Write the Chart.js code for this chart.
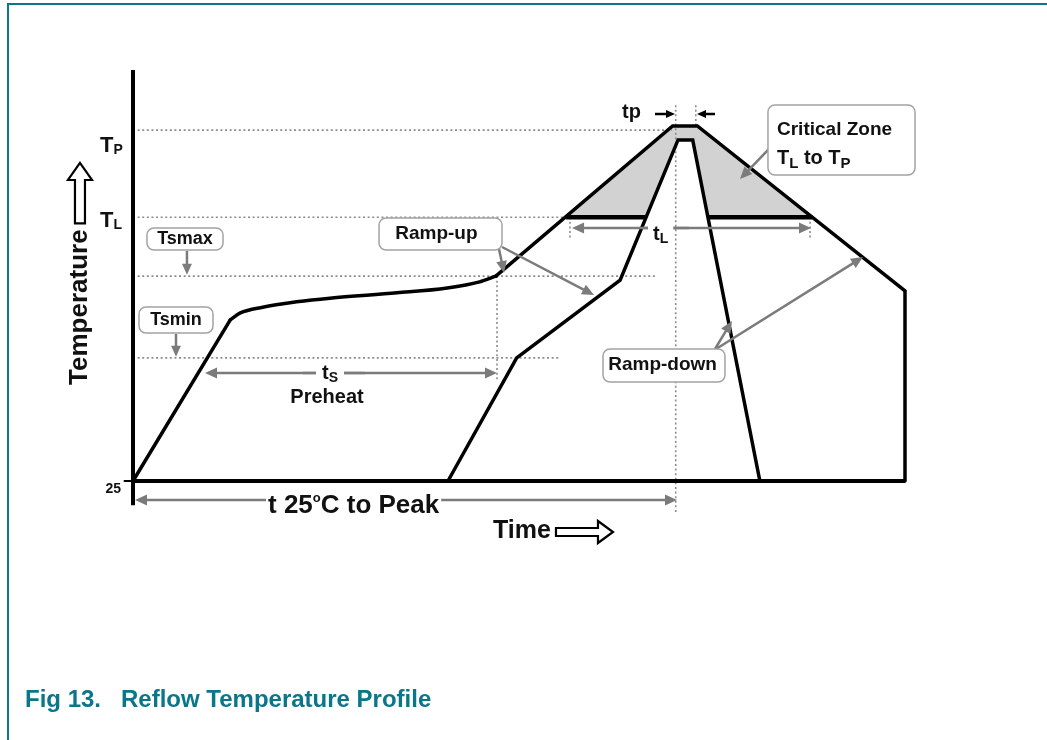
<!DOCTYPE html>
<html lang="en">

<head>
    <meta charset="UTF-8">
    <script src="https://cdn.jsdelivr.net/npm/chart.js"></script>
    <title>Reflow Temperature Profile</title>
    <style>
        body {
            margin: 0;
            background: #fff;
            width: 1047px;
            height: 740px;
            overflow: hidden;
            position: relative;
        }

        #frame {
            position: absolute;
            left: 7px;
            top: 3px;
            right: 0;
            bottom: 0;
            border-top: 2px solid #0b7889;
            border-left: 2px solid #0b7889;
        }

        #reflowChart {
            position: absolute;
            left: 0;
            top: 0;
        }

        .caption {
            position: absolute;
            top: 687px;
            font: bold 24px "Liberation Sans", Arial, sans-serif;
            line-height: 24px;
            color: #0a7689;
            white-space: nowrap;
        }
    </style>
</head>

<body>
    <div id="frame"></div>
    <canvas id="reflowChart" width="1047" height="740"></canvas>
    <div class="caption" style="left:25px">Fig 13.</div>
    <div class="caption" style="left:121px">Reflow Temperature Profile</div>
    <script>
        // time axis 0..100, temperature axis 0..100 (0 = 25 °C)
        const levelLabels = ['TP', 'TL', 'Tsmax', 'Tsmin'];
        const levelValues = [85.8, 64.5, 50.1, 30.1];
        const levelEnds = [69.8, 56.1, 67.6, 55.3];

        const rampTime = [0, 12.6];
        const rampTemp = [0, 39.4];
        const soakTime = [12.6, 13.9, 16.8, 21.2, 25.5, 34.2, 40.7, 44.9, 47.0];
        const soakTemp = [39.4, 41.1, 42.5, 43.8, 44.7, 46.0, 47.2, 48.7, 50.1];
        const reflowTime = [47.0, 69.9, 73.1, 100, 100];
        const reflowTemp = [50.1, 86.8, 86.8, 46.5, 0];

        const innerTime = [40.8, 49.7, 63.1, 70.6, 72.5, 81.2];
        const innerTemp = [0, 30.1, 49.1, 83.4, 83.4, 0];

        // critical zone TL..TP between both profiles
        const zoneTime = [56.1, 69.9, 73.1, 88.0, 74.5, 72.5, 70.6, 66.5];
        const zoneTemp = [64.5, 86.8, 86.8, 64.5, 64.5, 83.4, 83.4, 64.5];
        const zoneEdgeTime = [56.1, 66.5, 74.5, 88.0];

        // vertical marker guides (time, from, to)
        const markerTimes = [47.15, 70.3, 72.9, 56.6, 87.7];
        const markerTops = [50.1, 91.9, 91.9, 64.5, 64.5];
        const markerBottoms = [24.7, -7.6, 86.8, 58.9, 58.9];

        const FONT = '"Liberation Sans", Arial, sans-serif';
        const GREY = '#7b7b7b';

        function toPoints(xs, ys) {
            return xs.map(function (x, i) { return { x: x, y: ys[i] }; });
        }

        const guidePoints = [];
        levelValues.forEach(function (v, i) {
            guidePoints.push({ x: 0.6, y: v }, { x: levelEnds[i], y: v }, { x: levelEnds[i], y: null });
        });
        markerTimes.forEach(function (t, i) {
            guidePoints.push({ x: t, y: markerTops[i] }, { x: t, y: markerBottoms[i] }, { x: t, y: null });
        });

        const edgePoints = [
            { x: zoneEdgeTime[0], y: levelValues[1] }, { x: zoneEdgeTime[1], y: levelValues[1] },
            { x: zoneEdgeTime[1], y: null },
            { x: zoneEdgeTime[2], y: levelValues[1] }, { x: zoneEdgeTime[3], y: levelValues[1] }
        ];

        function line(points, width, extra) {
            return Object.assign({
                data: points,
                showLine: true,
                pointRadius: 0,
                borderColor: '#000',
                borderWidth: width,
                borderCapStyle: 'round',
                fill: false,
                tension: 0,
                clip: false
            }, extra || {});
        }

        function drawArrow(ctx, x1, y1, x2, y2, color, width, head) {
            const a = Math.atan2(y2 - y1, x2 - x1);
            const c = Math.cos(a), s = Math.sin(a);
            ctx.save();
            ctx.strokeStyle = color;
            ctx.fillStyle = color;
            ctx.lineWidth = width;
            ctx.beginPath();
            ctx.moveTo(x1, y1);
            ctx.lineTo(x2 - c * head * 0.8, y2 - s * head * 0.8);
            ctx.stroke();
            ctx.beginPath();
            ctx.moveTo(x2, y2);
            ctx.lineTo(x2 - head * c + head * 0.45 * s, y2 - head * s - head * 0.45 * c);
            ctx.lineTo(x2 - head * c - head * 0.45 * s, y2 - head * s + head * 0.45 * c);
            ctx.closePath();
            ctx.fill();
            ctx.restore();
        }

        function drawBox(ctx, x1, y1, x2, y2) {
            const r = 7;
            ctx.save();
            ctx.beginPath();
            ctx.moveTo(x1 + r, y1);
            ctx.arcTo(x2, y1, x2, y2, r);
            ctx.arcTo(x2, y2, x1, y2, r);
            ctx.arcTo(x1, y2, x1, y1, r);
            ctx.arcTo(x1, y1, x2, y1, r);
            ctx.closePath();
            ctx.fillStyle = '#fff';
            ctx.fill();
            ctx.strokeStyle = '#a3a3a3';
            ctx.lineWidth = 1.5;
            ctx.stroke();
            ctx.restore();
        }

        // parts: [text, size, dy]
        function drawRich(ctx, parts, x, y, align, gap) {
            let total = 0;
            parts.forEach(function (p) {
                ctx.font = 'bold ' + p[1] + 'px ' + FONT;
                total += ctx.measureText(p[0]).width;
            });
            let cx = align === 'center' ? x - total / 2 : x;
            if (gap) {
                ctx.fillStyle = '#fff';
                ctx.fillRect(cx - gap, y - parts[0][1] * 0.8, total + gap * 2, parts[0][1]);
            }
            ctx.fillStyle = '#111';
            ctx.textAlign = 'left';
            ctx.textBaseline = 'alphabetic';
            parts.forEach(function (p) {
                ctx.font = 'bold ' + p[1] + 'px ' + FONT;
                ctx.fillText(p[0], cx, y + (p[2] || 0));
                cx += ctx.measureText(p[0]).width;
            });
            return total;
        }

        function drawText(ctx, str, x, y, size) {
            ctx.font = 'bold ' + size + 'px ' + FONT;
            ctx.fillStyle = '#111';
            ctx.textAlign = 'center';
            ctx.textBaseline = 'middle';
            ctx.fillText(str, x, y);
        }

        const labelPlugin = {
            id: 'profileLabels',
            afterDatasetsDraw(chart) {
                const ctx = chart.ctx;
                const X = function (v) { return chart.scales.x.getPixelForValue(v); };
                const Y = function (v) { return chart.scales.y.getPixelForValue(v); };

                // level names on the temperature axis
                drawRich(ctx, [['T', 22], ['P', 14, 2]], X(-4.27), Y(80.44));
                drawRich(ctx, [['T', 22], ['L', 14, 2]], X(-4.27), Y(62.1));
                ctx.font = 'bold 14px ' + FONT;
                ctx.textAlign = 'right';
                ctx.fillStyle = '#111';
                ctx.fillText('25', X(-1.55), Y(-2.93));
                ctx.strokeStyle = '#000';
                ctx.lineWidth = 2;
                ctx.beginPath();
                ctx.moveTo(X(-1.2), Y(0));
                ctx.lineTo(X(0), Y(0));
                ctx.stroke();

                // Tsmax / Tsmin callouts
                drawBox(ctx, X(1.81), Y(61.86), X(11.66), Y(56.48));
                drawText(ctx, 'Tsmax', X(6.74), Y(59.17), 18);
                drawArrow(ctx, X(6.99), Y(56.23), X(6.99), Y(levelValues[2] + 0.3), GREY, 2.5, 11);
                drawBox(ctx, X(0.78), Y(42.54), X(10.36), Y(36.19));
                drawText(ctx, 'Tsmin', X(5.57), Y(39.36), 18);
                drawArrow(ctx, X(5.57), Y(35.94), X(5.57), Y(levelValues[3] + 0.3), GREY, 2.5, 11);

                // Ramp-up
                drawArrow(ctx, X(47.41), Y(56.72), X(48.06), Y(50.86), GREY, 2.5, 12);
                drawArrow(ctx, X(47.8), Y(57.21), X(59.72), Y(45.48), GREY, 2.5, 12);
                drawBox(ctx, X(31.87), Y(64.3), X(47.8), Y(56.48));
                drawText(ctx, 'Ramp-up', X(39.3), Y(60.39), 19);

                // Ramp-down
                drawArrow(ctx, X(75.39), Y(32.27), X(77.59), Y(39.12), GREY, 2.5, 12);
                drawArrow(ctx, X(75.52), Y(32.27), X(94.56), Y(54.77), GREY, 2.5, 12);
                drawBox(ctx, X(60.88), Y(32.27), X(76.68), Y(24.21));
                drawText(ctx, 'Ramp-down', X(68.6), Y(28.36), 19);

                // Critical zone
                drawArrow(ctx, X(82.51), Y(81.42), X(78.63), Y(73.84), GREY, 2.5, 12);
                drawBox(ctx, X(82.25), Y(91.93), X(101.3), Y(74.82));
                drawRich(ctx, [['Critical Zone', 19]], X(83.42), Y(84.6));
                drawRich(ctx, [['T', 20], ['L', 15, 4], [' to T', 20], ['P', 15, 4]], X(83.42), Y(77.51));

                // tp
                drawRich(ctx, [['tp', 20]], X(63.34), Y(88.75));
                drawArrow(ctx, X(67.62), Y(89.73), X(70.21), Y(89.73), '#000', 2.5, 9);
                drawArrow(ctx, X(75.39), Y(89.73), X(73.06), Y(89.73), '#000', 2.5, 9);

                // tL
                drawArrow(ctx, X(72), Y(61.86), X(56.87), Y(61.86), GREY, 2.5, 12);
                drawArrow(ctx, X(66), Y(61.86), X(87.82), Y(61.86), GREY, 2.5, 12);
                drawRich(ctx, [['t', 20], ['L', 14, 3]], X(67.36), Y(58.92), 'left', 5);

                // ts preheat
                drawArrow(ctx, X(30), Y(26.41), X(9.33), Y(26.41), GREY, 2.5, 12);
                drawArrow(ctx, X(22), Y(26.41), X(47.15), Y(26.41), GREY, 2.5, 12);
                drawRich(ctx, [['t', 20], ['S', 14, 3]], X(24.48), Y(24.94), 'left', 6);
                drawRich(ctx, [['Preheat', 20]], X(25.13), Y(19.07), 'center');

                // t 25 °C to peak
                drawArrow(ctx, X(40), Y(-4.65), X(0.26), Y(-4.65), GREY, 2.5, 12);
                drawArrow(ctx, X(20), Y(-4.65), X(70.47), Y(-4.65), GREY, 2.5, 12);
                drawRich(ctx, [['t 25', 26], ['o', 13, -11], ['C to Peak', 26]], X(17.49), Y(-7.82), 'left', 2);

                // Time label with hollow arrow
                drawRich(ctx, [['Time', 25]], X(46.63), Y(-13.94));
                const ty = Y(-12.47), s0 = X(54.79), s1 = X(60.23), tip = X(62.18);
                ctx.save();
                ctx.beginPath();
                ctx.moveTo(s0, ty - 4);
                ctx.lineTo(s1, ty - 4);
                ctx.lineTo(s1, ty - 11);
                ctx.lineTo(tip, ty);
                ctx.lineTo(s1, ty + 11);
                ctx.lineTo(s1, ty + 4);
                ctx.lineTo(s0, ty + 4);
                ctx.closePath();
                ctx.fillStyle = '#fff';
                ctx.fill();
                ctx.strokeStyle = '#000';
                ctx.lineWidth = 2.2;
                ctx.stroke();
                ctx.restore();

                // Temperature label with hollow arrow
                ctx.save();
                ctx.translate(X(-5.95), Y(42.5));
                ctx.rotate(-Math.PI / 2);
                ctx.font = 'bold 26px ' + FONT;
                ctx.fillStyle = '#111';
                ctx.textAlign = 'center';
                ctx.textBaseline = 'alphabetic';
                ctx.fillText('Temperature', 0, 0);
                ctx.restore();
                const ax = X(-6.87), aTip = Y(77.8), aBase = Y(73.6), aBot = Y(63.0);
                ctx.save();
                ctx.beginPath();
                ctx.moveTo(ax, aTip);
                ctx.lineTo(ax + 12, aBase);
                ctx.lineTo(ax + 5, aBase);
                ctx.lineTo(ax + 5, aBot);
                ctx.lineTo(ax - 5, aBot);
                ctx.lineTo(ax - 5, aBase);
                ctx.lineTo(ax - 12, aBase);
                ctx.closePath();
                ctx.fillStyle = '#fff';
                ctx.fill();
                ctx.strokeStyle = '#000';
                ctx.lineWidth = 2.2;
                ctx.stroke();
                ctx.restore();
            }
        };

        const ctxReflow = document.getElementById('reflowChart').getContext('2d');
        const reflowChart = new Chart(ctxReflow, {
            type: 'scatter',
            data: {
                datasets: [
                    line([{ x: 0, y: 100.5 }, { x: 0, y: -5.9 }, { x: 0, y: null }, { x: 0, y: 0 }, { x: 100, y: 0 }], 4,
                        { borderCapStyle: 'butt', order: 0 }),
                    line(edgePoints, 4.5, { borderCapStyle: 'butt', order: 1 }),
                    line(toPoints(rampTime, rampTemp), 3.5, { order: 2 }),
                    line(toPoints(soakTime, soakTemp), 3.5, { order: 2, cubicInterpolationMode: 'monotone' }),
                    line(toPoints(reflowTime, reflowTemp), 3.5, { order: 2, borderJoinStyle: 'miter' }),
                    line(toPoints(innerTime, innerTemp), 3.5, { order: 2, borderJoinStyle: 'miter' }),
                    line(guidePoints, 1.6, { borderColor: '#8c8c8c', borderDash: [2, 2.6], borderCapStyle: 'butt', order: 5 }),
                    line(toPoints(zoneTime, zoneTemp), 0, { fill: 'shape', backgroundColor: '#d2d2d2', order: 10 })
                ]
            },
            options: {
                responsive: false,
                animation: false,
                devicePixelRatio: 1,
                events: [],
                layout: { padding: { left: 133, right: 142, top: 72, bottom: 259 } },
                scales: {
                    x: { type: 'linear', min: 0, max: 100, display: false },
                    y: { type: 'linear', min: 0, max: 100, display: false }
                },
                plugins: {
                    legend: { display: false },
                    tooltip: { enabled: false }
                }
            },
            plugins: [labelPlugin]
        });
    </script>
</body>

</html>
